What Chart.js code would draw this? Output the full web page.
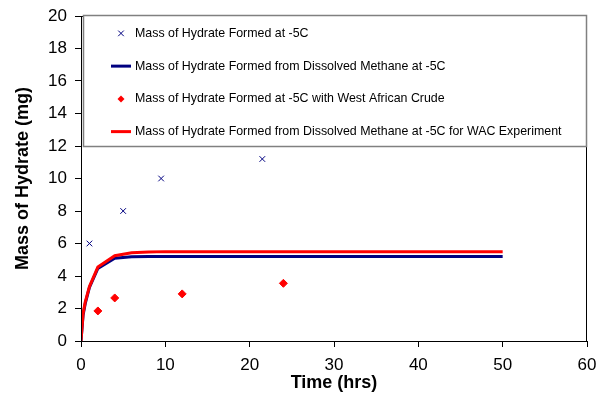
<!DOCTYPE html>
<html>
<head>
<meta charset="utf-8">
<script src="https://cdn.jsdelivr.net/npm/chart.js@4.4.1/dist/chart.umd.min.js"></script>
<style>
  html, body { margin: 0; padding: 0; background: #fff; }
  #wrap { width: 599px; height: 401px; }
</style>
</head>
<body>
<div id="wrap"><canvas id="hydrateChart" width="599" height="401"></canvas></div>
<script>
// ===== DATA =====
const seriesNames = [
    'Mass of Hydrate Formed at -5C',
    'Mass of Hydrate Formed from Dissolved Methane at -5C',
    'Mass of Hydrate Formed at -5C with West African Crude',
    'Mass of Hydrate Formed from Dissolved Methane at -5C for WAC Experiment'
];

// measured points, -5C
const measTime = [1, 5, 9.5, 21.5];
const measMass = [6, 8, 10, 11.2];

// model curve, dissolved methane
const modelTime = [0, 0.25, 0.5, 1, 2, 4, 6, 8, 10, 20, 30, 40, 50];
const modelMass = [0, 1.6, 2.3, 3.3, 4.47, 5.09, 5.19, 5.2, 5.2, 5.2, 5.2, 5.2, 5.2];

// measured points, West African crude
const wacTime = [2, 4, 12, 24];
const wacMass = [1.85, 2.65, 2.9, 3.55];

// model curve for WAC experiment
const wacModelTime = [0, 0.25, 0.5, 1, 2, 4, 6, 8, 10, 20, 30, 40, 50];
const wacModelMass = [0, 1.7, 2.4, 3.35, 4.55, 5.25, 5.43, 5.47, 5.5, 5.5, 5.5, 5.5, 5.5];

const xTicks = [0, 10, 20, 30, 40, 50, 60];
const yTicks = [0, 2, 4, 6, 8, 10, 12, 14, 16, 18, 20];

const toPoints = (xs, ys) => xs.map((x, i) => ({ x: x, y: ys[i] }));

const FONT = '"Liberation Sans", Arial, sans-serif';

// ===== PLOT FRAME + LEGEND BOX =====
const frameLegend = {
    id: 'frameLegend',
    afterDraw(chart) {
        const { ctx, chartArea, scales } = chart;
        ctx.save();
        // plot area frame
        ctx.strokeStyle = '#000';
        ctx.lineWidth = 1;
        ctx.strokeRect(chartArea.left + 0.5, chartArea.top + 0.5,
            chartArea.right - chartArea.left - 1, chartArea.bottom - chartArea.top);

        // legend box, bottom sits on y = 12
        const boxL = chartArea.left + 2;
        const boxT = chartArea.top - 1;
        const boxB = Math.round(scales.y.getPixelForValue(12));
        const boxR = chartArea.right;
        ctx.fillStyle = '#fff';
        ctx.fillRect(boxL, boxT, boxR - boxL, boxB - boxT);
        ctx.strokeStyle = '#808080';
        ctx.lineWidth = 1.5;
        ctx.strokeRect(boxL + 0.5, boxT + 0.5, boxR - boxL - 1, boxB - boxT);

        const rowH = (boxB - boxT) / 4;
        const symX = boxL + 38;
        ctx.font = '12.4px ' + FONT;
        ctx.textBaseline = 'middle';
        ctx.textAlign = 'left';
        chart.data.datasets.forEach((ds, i) => {
            const cy = boxT + rowH * (i + 0.5) + 2;
            if (ds.showLine) {
                ctx.strokeStyle = ds.borderColor;
                ctx.lineWidth = 3;
                ctx.beginPath();
                ctx.moveTo(symX - 10, cy);
                ctx.lineTo(symX + 10, cy);
                ctx.stroke();
            } else if (ds.pointStyle === 'rectRot') {
                const r = 3.5;
                ctx.fillStyle = ds.backgroundColor;
                ctx.beginPath();
                ctx.moveTo(symX, cy - r); ctx.lineTo(symX + r, cy);
                ctx.lineTo(symX, cy + r); ctx.lineTo(symX - r, cy);
                ctx.closePath();
                ctx.fill();
            } else {
                const r = ds.pointRadius * 0.7;
                ctx.strokeStyle = ds.borderColor;
                ctx.lineWidth = ds.borderWidth;
                ctx.beginPath();
                ctx.moveTo(symX - r, cy - r); ctx.lineTo(symX + r, cy + r);
                ctx.moveTo(symX + r, cy - r); ctx.lineTo(symX - r, cy + r);
                ctx.stroke();
            }
            ctx.fillStyle = '#000';
            ctx.fillText(seriesNames[i], symX + 14, cy);
        });
        ctx.restore();
    }
};

// ===== CHART =====
new Chart(document.getElementById('hydrateChart'), {
    type: 'scatter',
    data: {
        datasets: [
            {
                label: seriesNames[0],
                data: toPoints(measTime, measMass),
                pointStyle: 'crossRot',
                pointRadius: 4,
                borderColor: '#000080',
                backgroundColor: '#000080',
                borderWidth: 1,
                showLine: false,
                order: 0
            },
            {
                label: seriesNames[1],
                data: toPoints(modelTime, modelMass),
                showLine: true,
                borderColor: '#000080',
                backgroundColor: '#000080',
                borderWidth: 3,
                pointRadius: 0,
                tension: 0,
                order: 2
            },
            {
                label: seriesNames[2],
                data: toPoints(wacTime, wacMass),
                pointStyle: 'rectRot',
                pointRadius: 4,
                borderColor: '#ff0000',
                backgroundColor: '#ff0000',
                borderWidth: 1,
                showLine: false,
                order: 0
            },
            {
                label: seriesNames[3],
                data: toPoints(wacModelTime, wacModelMass),
                showLine: true,
                borderColor: '#ff0000',
                backgroundColor: '#ff0000',
                borderWidth: 3,
                pointRadius: 0,
                tension: 0,
                order: 1
            }
        ]
    },
    options: {
        responsive: false,
        animation: false,
        layout: { padding: { left: 0, right: 12, top: 16, bottom: 0 } },
        plugins: {
            legend: { display: false },
            tooltip: { enabled: false }
        },
        scales: {
            x: {
                type: 'linear',
                min: 0,
                max: 60,
                afterBuildTicks: (s) => { s.ticks = xTicks.map(v => ({ value: v })); },
                afterFit: (s) => { s.height = 60; s.paddingLeft = 0; s.paddingRight = 0; },
                grid: { display: true, drawOnChartArea: false, drawTicks: true, tickLength: 6, color: '#000' },
                border: { color: '#000', width: 1 },
                ticks: { color: '#000', font: { size: 17, family: FONT }, padding: 8, maxRotation: 0 },
                title: {
                    display: true,
                    text: 'Time (hrs)',
                    color: '#000',
                    font: { size: 18, weight: 'bold', family: FONT },
                    padding: { top: 0, bottom: 7 }
                }
            },
            y: {
                type: 'linear',
                min: 0,
                max: 20,
                afterBuildTicks: (s) => { s.ticks = yTicks.map(v => ({ value: v })); },
                afterFit: (s) => { s.width = 81; s.paddingTop = 0; s.paddingBottom = 0; },
                grid: { display: true, drawOnChartArea: false, drawTicks: true, tickLength: 6, color: '#000' },
                border: { color: '#000', width: 1 },
                ticks: { color: '#000', font: { size: 17, family: FONT }, padding: 8 },
                title: {
                    display: true,
                    text: 'Mass of Hydrate (mg)',
                    color: '#000',
                    font: { size: 18, weight: 'bold', family: FONT },
                    padding: { top: 12, bottom: 0 }
                }
            }
        }
    },
    plugins: [frameLegend]
});
</script>
</body>
</html>
